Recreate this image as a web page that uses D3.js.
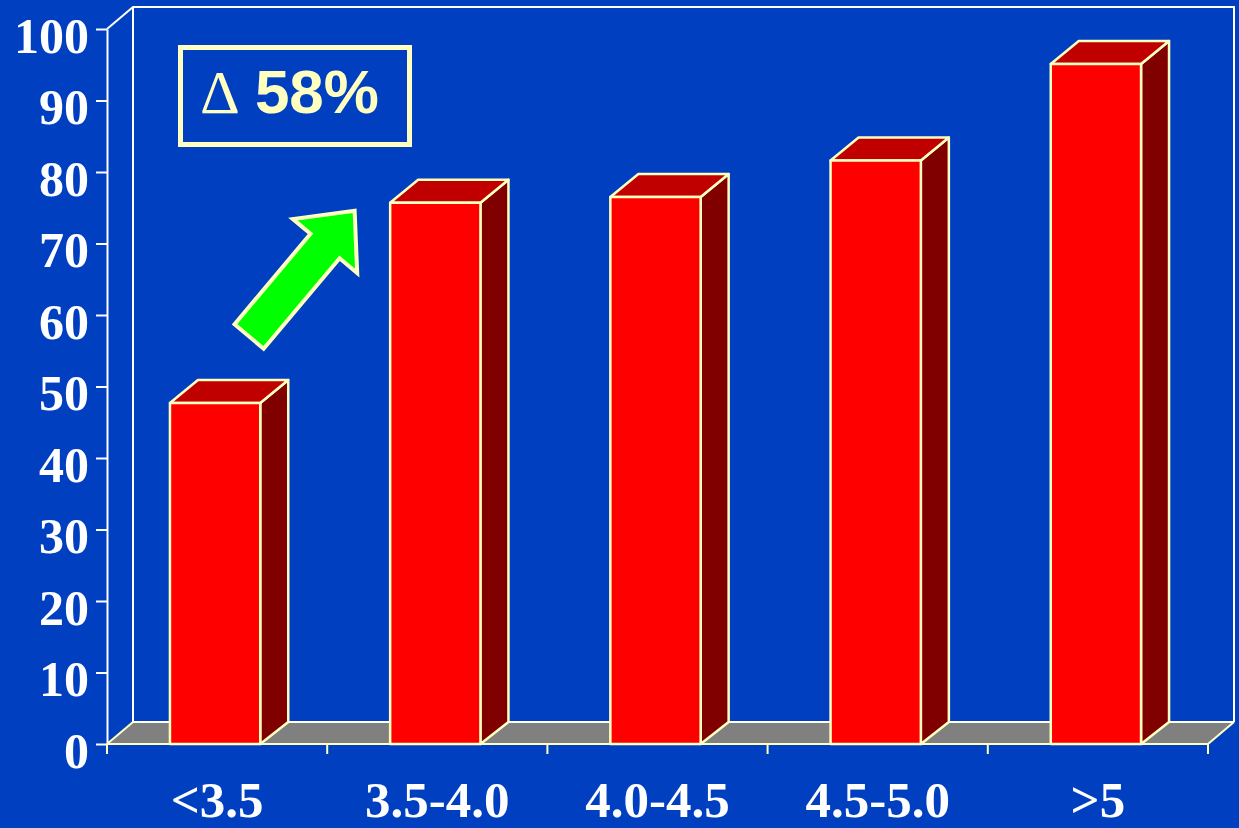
<!DOCTYPE html>
<html>
<head>
<meta charset="utf-8">
<script src="https://cdn.jsdelivr.net/npm/d3@7"></script>
<style>
  html, body { margin: 0; padding: 0; background: #0040C0; }
  svg { display: block; }
</style>
</head>
<body>
<svg id="chart" width="1239" height="828"></svg>
<script>
// Data
const categories = ["<3.5", "3.5-4.0", "4.0-4.5", "4.5-5.0", ">5"];
const values = [47.7, 75.7, 76.5, 81.6, 95.1];
const yTicks = [0, 10, 20, 30, 40, 50, 60, 70, 80, 90, 100];
const deltaSymbol = "\u0394";
const deltaText = "58%";

// Styles
const BG = "#0040C0";
const EDGE = "#FFFFC0";
const WALL = "#FFFFFF";
const FLOOR = "#808080";
const FRONT = "#FF0000";
const TOP_FACE = "#C00000";
const SIDE = "#800000";
const ARROW = "#00FF00";

const W = 1239, H = 828;
const plotLeft = 107, plotRight = 1208, plotTop = 29, plotBottom = 744;
const depthX = 26, depthY = 22;      // oblique offset of the back wall
const barDX = 28, barDY = 23;        // oblique offset of bar tops/sides

const svg = d3.select("#chart");
svg.append("rect").attr("width", W).attr("height", H).attr("fill", BG);

const x = d3.scaleBand().domain(categories).range([plotLeft, plotRight])
  .paddingInner(0.59).paddingOuter(0.295);
const y = d3.scaleLinear().domain([0, 100]).range([plotBottom, plotTop]);

// Back wall outline
const wall = svg.append("g").attr("fill", "none").attr("stroke", WALL).attr("stroke-width", 2);
wall.append("path").attr("d", d3.line()([
  [plotLeft, y(100)], [plotLeft + depthX, y(100) - depthY],
  [plotRight + depthX, y(100) - depthY], [plotRight + depthX, y(0) - depthY]
]));
wall.append("line")
  .attr("x1", plotLeft + depthX).attr("x2", plotLeft + depthX)
  .attr("y1", y(100) - depthY).attr("y2", y(0) - depthY);

// Floor
svg.append("path")
  .attr("d", d3.line()([
    [plotLeft, y(0)], [plotRight, y(0)], [plotRight + depthX, y(0) - depthY], [plotLeft + depthX, y(0) - depthY]
  ]) + "Z")
  .attr("fill", FLOOR).attr("stroke", "none");
svg.append("line")
  .attr("x1", plotLeft + depthX).attr("x2", plotRight + depthX)
  .attr("y1", y(0) - depthY).attr("y2", y(0) - depthY)
  .attr("stroke", WALL).attr("stroke-width", 2);
svg.append("path")
  .attr("d", d3.line()([[plotLeft, y(0)], [plotLeft + depthX, y(0) - depthY]]))
  .attr("stroke", EDGE).attr("stroke-width", 2).attr("fill", "none");
svg.append("path")
  .attr("d", d3.line()([[plotRight, y(0)], [plotRight + depthX, y(0) - depthY]]))
  .attr("stroke", EDGE).attr("stroke-width", 2).attr("fill", "none");

// Y axis
const yAxis = svg.append("g")
  .attr("transform", `translate(${plotLeft},0)`)
  .call(d3.axisLeft(y).tickValues(yTicks).tickSize(11).tickPadding(7).tickSizeOuter(0));
yAxis.select(".domain").attr("stroke", WALL).attr("stroke-width", 2);
yAxis.selectAll(".tick line").attr("stroke", WALL).attr("stroke-width", 2);
yAxis.selectAll(".tick text")
  .attr("fill", "#FFFFFF")
  .attr("font-family", "'Liberation Serif', 'Times New Roman', serif")
  .attr("font-weight", "bold")
  .attr("font-size", 50)
  .attr("dy", "0.46em");

// Bars (front, top, side faces)
const shift = -2;
const bw = x.bandwidth();
const bars = svg.append("g").selectAll("g.bar")
  .data(categories.map((c, i) => ({ c, v: values[i] })))
  .join("g").attr("class", "bar")
  .attr("stroke", EDGE).attr("stroke-width", 2.5).attr("stroke-linejoin", "round");

bars.append("path").attr("fill", SIDE).attr("d", d => {
  const x1 = x(d.c) + shift + bw, y0 = y(0), y1 = y(d.v);
  return d3.line()([[x1, y0], [x1 + barDX, y0 - depthY], [x1 + barDX, y1 - barDY], [x1, y1]]) + "Z";
});
bars.append("path").attr("fill", TOP_FACE).attr("d", d => {
  const x0 = x(d.c) + shift, x1 = x0 + bw, y1 = y(d.v);
  return d3.line()([[x0, y1], [x0 + barDX, y1 - barDY], [x1 + barDX, y1 - barDY], [x1, y1]]) + "Z";
});
bars.append("rect").attr("fill", FRONT)
  .attr("x", d => x(d.c) + shift)
  .attr("y", d => y(d.v))
  .attr("width", bw)
  .attr("height", d => y(0) - y(d.v));

// X axis (front floor edge)
const xAxis = svg.append("g")
  .attr("transform", `translate(0,${plotBottom})`)
  .call(d3.axisBottom(x).tickSize(0).tickPadding(0).tickSizeOuter(0));
xAxis.select(".domain").remove();
xAxis.selectAll(".tick line").remove();
xAxis.append("line").attr("x1", plotLeft).attr("x2", plotRight)
  .attr("stroke", EDGE).attr("stroke-width", 2);
const bounds = x.domain().map(c => x(c) - x.step() * x.paddingInner() / 2);
bounds.push(plotRight);
xAxis.selectAll("line.sep").data(bounds).join("line").attr("class", "sep")
  .attr("x1", d => d).attr("x2", d => d).attr("y1", 0).attr("y2", 10)
  .attr("stroke", EDGE).attr("stroke-width", 2);
xAxis.selectAll(".tick text")
  .attr("fill", "#FFFFFF")
  .attr("font-family", "'Liberation Serif', 'Times New Roman', serif")
  .attr("font-weight", "bold")
  .attr("font-size", 51)
  .attr("y", 73)
  .attr("dy", 0);

// Delta annotation box
const box = svg.append("g");
box.append("rect")
  .attr("x", 180.5).attr("y", 47.5).attr("width", 229).attr("height", 97)
  .attr("fill", "none").attr("stroke", EDGE).attr("stroke-width", 5);
const label = box.append("text").attr("x", 200).attr("y", 113).attr("fill", EDGE);
label.append("tspan")
  .attr("font-family", "'Liberation Serif', 'Times New Roman', serif")
  .attr("font-size", 62)
  .text(deltaSymbol);
label.append("tspan")
  .attr("dx", 15)
  .attr("font-family", "'Liberation Sans', Arial, sans-serif")
  .attr("font-weight", "bold")
  .attr("font-size", 62)
  .text(deltaText);

// Arrow pointing from the first bar's level up toward the second bar
const p0 = [x(categories[0]) + bw / 2 + 32, y(57)];
const p1 = [x(categories[1]) - x.step() * x.paddingInner() / 2 + 30, y(75)];
const ang = Math.atan2(p1[1] - p0[1], p1[0] - p0[0]) * 180 / Math.PI;
const len = Math.hypot(p1[0] - p0[0], p1[1] - p0[1]) - 4;
const sw = 19, hw = 42, hl = 46;
svg.append("path")
  .attr("transform", `translate(${p0[0]},${p0[1]}) rotate(${ang})`)
  .attr("d", d3.line()([
    [0, -sw], [len - hl, -sw], [len - hl, -hw], [len, 0],
    [len - hl, hw], [len - hl, sw], [0, sw]
  ]) + "Z")
  .attr("fill", ARROW).attr("stroke", EDGE).attr("stroke-width", 4)
  .attr("stroke-linejoin", "miter");
</script>
</body>
</html>
